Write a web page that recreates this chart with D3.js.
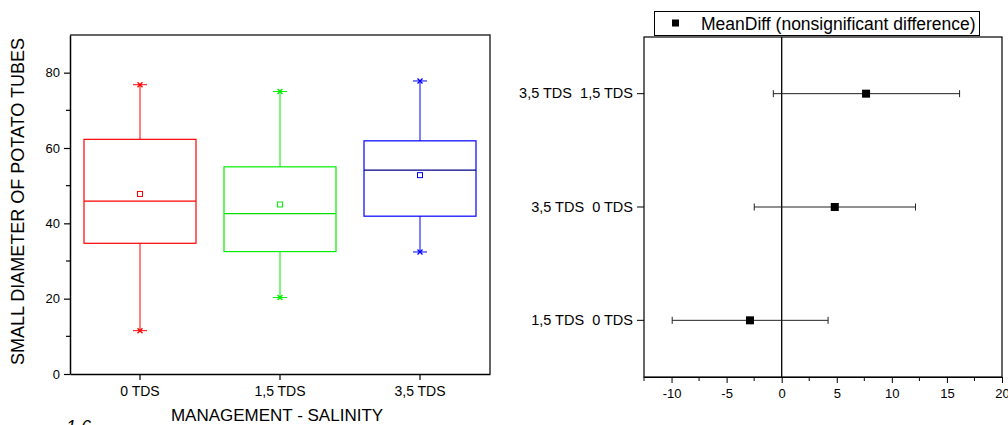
<!DOCTYPE html>
<html><head><meta charset="utf-8">
<script src="https://cdn.jsdelivr.net/npm/d3@7"></script>
<style>
body{margin:0;background:#fff;}
text{font-family:"Liberation Sans",Arial,sans-serif;fill:#000;white-space:pre;}
</style></head>
<body>
<svg id="c" width="1008" height="425"></svg>
<script>
// ---- Data ----
const categories = ["0 TDS", "1,5 TDS", "3,5 TDS"];
const boxMin    = [11.5, 20.3, 32.4];
const boxQ1     = [34.7, 32.5, 41.9];
const boxMedian = [45.9, 42.6, 54.1];
const boxQ3     = [62.3, 55.0, 61.9];
const boxMax    = [76.8, 75.0, 77.8];
const boxMean   = [47.8, 45.0, 52.8];
const boxColors = ["#ff0000", "#00ee00", "#0000ff"];
const medianColors = ["#ff0000", "#00dd00", "#000088"];
const yTicksLeft = [0, 20, 40, 60, 80];

const comparisons = ["3,5 TDS  1,5 TDS", "3,5 TDS  0 TDS", "1,5 TDS  0 TDS"];
const meanDiff  = [7.66, 4.82, -2.88];
const ciLower   = [-0.76, -2.49, -9.94];
const ciUpper   = [16.15, 12.15, 4.21];
const xTicksRight = [-10, -5, 0, 5, 10, 15, 20];

const svg = d3.select("#c");
const FONT = "Liberation Sans, Arial";

// ---- Left box chart ----
const L = {l:70, r:490, t:35, b:374};
const x1 = d3.scaleBand().domain(categories).range([L.l, L.r]).paddingInner(0.2).paddingOuter(0.1);
const y1 = d3.scaleLinear().domain([0, 90]).range([L.b, L.t]);

const g1 = svg.append("g");
g1.append("path").attr("d", `M${L.l},${L.t}H${L.r}V${L.b}`).attr("fill","none").attr("stroke","#333").attr("stroke-width",1.5);

categories.forEach((c, i) => {
  const cx = x1(c) + x1.bandwidth()/2;
  const col = boxColors[i];
  const g = g1.append("g");
  g.append("line").attr("x1",cx).attr("x2",cx).attr("y1",y1(boxQ3[i])).attr("y2",y1(boxMax[i])).attr("stroke",col);
  g.append("line").attr("x1",cx).attr("x2",cx).attr("y1",y1(boxQ1[i])).attr("y2",y1(boxMin[i])).attr("stroke",col);
  [boxMax[i], boxMin[i]].forEach(v => {
    const yy = y1(v);
    g.append("line").attr("x1",cx-7).attr("x2",cx+7).attr("y1",yy).attr("y2",yy).attr("stroke",col);
    g.append("path").attr("d",`M${cx-2.5},${yy-2.5}L${cx+2.5},${yy+2.5}M${cx-2.5},${yy+2.5}L${cx+2.5},${yy-2.5}`).attr("stroke",col).attr("stroke-width",1.3);
  });
  g.append("rect").attr("x",x1(c)).attr("width",x1.bandwidth())
    .attr("y",y1(boxQ3[i])).attr("height",y1(boxQ1[i])-y1(boxQ3[i]))
    .attr("fill","none").attr("stroke",col).attr("stroke-width",1.2);
  g.append("line").attr("x1",x1(c)).attr("x2",x1(c)+x1.bandwidth()).attr("y1",y1(boxMedian[i])).attr("y2",y1(boxMedian[i])).attr("stroke",medianColors[i]).attr("stroke-width",1.2);
  g.append("rect").attr("x",cx-2.5).attr("y",y1(boxMean[i])-2.5).attr("width",5).attr("height",5).attr("fill","#fff").attr("stroke",col).attr("stroke-width",1);
});

const ya = d3.axisLeft(y1).tickValues(yTicksLeft).tickSize(6).tickPadding(4).tickSizeOuter(0);
const gy = g1.append("g").attr("transform",`translate(${L.l},0)`).call(ya);
gy.select(".domain").attr("stroke","#000").attr("stroke-width",1.5);
gy.selectAll(".tick line").attr("stroke-width",1.2);
gy.selectAll("text").style("font-size","13px").style("font-family",FONT);
[10,30,50,70].forEach(v => g1.append("line").attr("x1",L.l-4).attr("x2",L.l).attr("y1",y1(v)).attr("y2",y1(v)).attr("stroke","#000").attr("stroke-width",1.2));

const xa = d3.axisBottom(x1).tickSize(6).tickPadding(6).tickSizeOuter(0);
const gx = g1.append("g").attr("transform",`translate(0,${L.b})`).call(xa);
gx.select(".domain").attr("stroke","#000").attr("stroke-width",1.5);
gx.selectAll(".tick line").attr("stroke-width",1.2);
gx.selectAll("text").style("font-size","14px").style("font-family",FONT);

svg.append("text").attr("transform",`translate(24,${(L.t+L.b)/2 - 3}) rotate(-90)`).attr("text-anchor","middle").style("font-size","18px").text("SMALL DIAMETER OF POTATO TUBES");
svg.append("text").attr("x",277).attr("y",421).attr("text-anchor","middle").style("font-size","17px").text("MANAGEMENT - SALINITY");
svg.append("text").attr("x",60).attr("y",433).style("font-size","18px").style("font-style","italic").text("-1.6");

// ---- Right mean-difference chart ----
const R = {l:644, r:1002, t:37, b:377};
const x2 = d3.scaleLinear().domain([-12.5, 20]).range([R.l, R.r]);
const y2 = d3.scaleBand().domain(comparisons).range([R.t, R.b]);
const g2 = svg.append("g");

g2.append("rect").attr("x",R.l).attr("y",R.t).attr("width",R.r-R.l).attr("height",R.b-R.t).attr("fill","none").attr("stroke","#000").attr("stroke-width",1.2);
g2.append("line").attr("x1",x2(0)).attr("x2",x2(0)).attr("y1",R.t).attr("y2",R.b).attr("stroke","#000").attr("stroke-width",1.3);

const xa2 = d3.axisBottom(x2).tickValues(xTicksRight).tickSize(6).tickPadding(6).tickSizeOuter(0).tickFormat(d => String(d));
const gx2 = g2.append("g").attr("transform",`translate(0,${R.b})`).call(xa2);
gx2.select(".domain").attr("stroke","#000").attr("stroke-width",1.2);
gx2.selectAll("text").style("font-size","13px").style("font-family",FONT);
d3.range(-12.5, 20, 5).forEach(v => g2.append("line").attr("x1",x2(v)).attr("x2",x2(v)).attr("y1",R.b).attr("y2",R.b+4).attr("stroke","#000"));

const ya2 = d3.axisLeft(y2).tickSize(7).tickPadding(4).tickSizeOuter(0);
const gy2 = g2.append("g").attr("transform",`translate(${R.l},0)`).call(ya2);
gy2.select(".domain").remove();
gy2.selectAll("text").style("font-size","14.5px").style("font-family",FONT).style("white-space","pre");

comparisons.forEach((c, i) => {
  const cy = y2(c) + y2.bandwidth()/2;
  g2.append("line").attr("x1",x2(ciLower[i])).attr("x2",x2(ciUpper[i])).attr("y1",cy).attr("y2",cy).attr("stroke","#222");
  [ciLower[i], ciUpper[i]].forEach(v => g2.append("line").attr("x1",x2(v)).attr("x2",x2(v)).attr("y1",cy-3.5).attr("y2",cy+3.5).attr("stroke","#222"));
  g2.append("rect").attr("x",x2(meanDiff[i])-4).attr("y",cy-4).attr("width",8).attr("height",8).attr("fill","#000");
});

const lg = svg.append("g");
lg.append("rect").attr("x",654.5).attr("y",11.5).attr("width",325).attr("height",24).attr("fill","#fff").attr("stroke","#000");
lg.append("rect").attr("x",672).attr("y",19.5).attr("width",7).attr("height",7).attr("fill","#000");
lg.append("text").attr("x",701).attr("y",29.5).style("font-size","17.5px").text("MeanDiff (nonsignificant difference)");
</script>
</body></html>
